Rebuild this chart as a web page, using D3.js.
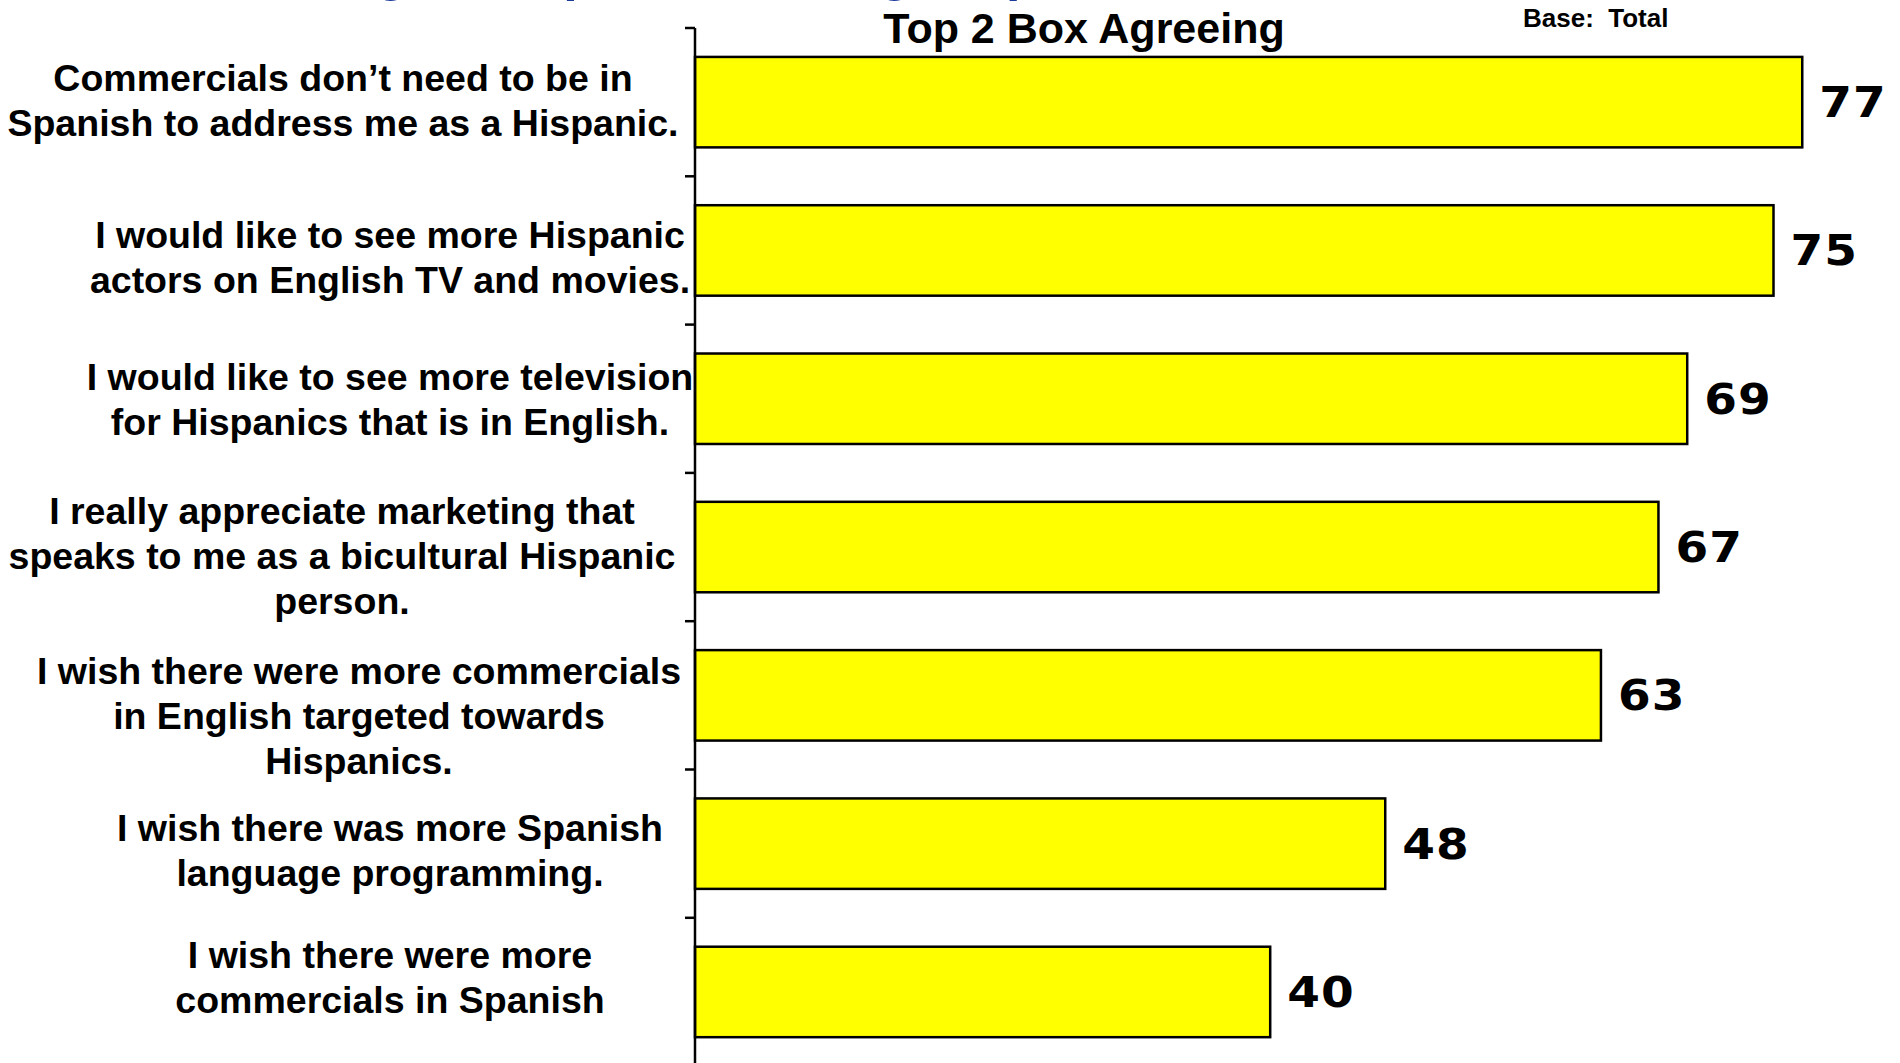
<!DOCTYPE html>
<html>
<head>
<meta charset="utf-8">
<script src="https://cdn.jsdelivr.net/npm/d3@7/dist/d3.min.js"></script>
<style>
  html, body { margin: 0; padding: 0; background: #ffffff; }
  svg { display: block; }
</style>
</head>
<body>
<script>
// Statements (wrapped lines joined by "\n") and their Top 2 Box agreement scores
const categories = [
  "Commercials don\u2019t need to be in\nSpanish to address me as a Hispanic.",
  "I would like to see more Hispanic\nactors on English TV and movies.",
  "I would like to see more television\nfor Hispanics that is in English.",
  "I really appreciate marketing that\nspeaks to me as a bicultural Hispanic\nperson.",
  "I wish there were more commercials\nin English targeted towards\nHispanics.",
  "I wish there was more Spanish\nlanguage programming.",
  "I wish there were more\ncommercials in Spanish"
];
const values = [77, 75, 69, 67, 63, 48, 40];

const pageTitle = "Advertising Perceptions Among Hispanics";
const chartTitle = "Top 2 Box Agreeing";
const baseNote = "Base:  Total";

// Per-statement label placement (horizontal centre, vertical nudge)
const labelCenterX = [343, 390, 390, 342, 359, 390, 390];
const labelShiftY  = [-2, 7, 0, 8, 20, 6, -15];

const W = 1900, H = 1063;
const svg = d3.select("body").append("svg")
  .attr("width", W).attr("height", H)
  .style("font-family", "'Liberation Sans', Arial, sans-serif");

svg.append("rect").attr("width", W).attr("height", H).attr("fill", "#ffffff");

const axisX = 695;
const x = d3.scaleLinear().domain([0, 100]).range([axisX, axisX + 1438]);
const y = d3.scaleBand()
  .domain(categories)
  .range([28, 28 + 7 * 148.3])
  .paddingInner(0.39)
  .paddingOuter(0.195);

// Page heading, sitting above the top edge so only its descenders show
svg.append("text")
  .attr("x", 121).attr("y", -10)
  .attr("font-size", 52).attr("font-weight", "bold")
  .attr("fill", "#1c3a9a")
  .text(pageTitle);

svg.append("text")
  .attr("x", 1084).attr("y", 43)
  .attr("text-anchor", "middle")
  .attr("font-size", 43).attr("font-weight", "bold")
  .attr("fill", "#000")
  .text(chartTitle);

svg.append("text")
  .attr("x", 1523).attr("y", 27)
  .attr("font-size", 26).attr("font-weight", "bold")
  .attr("fill", "#000")
  .attr("xml:space", "preserve")
  .style("white-space", "pre")
  .text(baseNote);

// Bars
svg.append("g").selectAll("rect")
  .data(values)
  .join("rect")
  .attr("x", x(0))
  .attr("y", (d, i) => y(categories[i]))
  .attr("width", d => x(d) - x(0))
  .attr("height", y.bandwidth())
  .attr("fill", "#ffff00")
  .attr("stroke", "#000")
  .attr("stroke-width", 2.5);

// Category axis: line plus ticks at band boundaries
const axisG = svg.append("g");
const step = y.step();
const top0 = y(categories[0]) - y.paddingOuter() * step;
axisG.append("line")
  .attr("x1", axisX).attr("x2", axisX)
  .attr("y1", top0).attr("y2", H + 10)
  .attr("stroke", "#000").attr("stroke-width", 2.5);
axisG.selectAll("line.tick")
  .data(d3.range(categories.length + 1))
  .join("line")
  .attr("class", "tick")
  .attr("x1", axisX - 10).attr("x2", axisX)
  .attr("y1", i => top0 + i * step)
  .attr("y2", i => top0 + i * step)
  .attr("stroke", "#000").attr("stroke-width", 2.5);

// Category labels
const lineH = 45;
categories.forEach((c, i) => {
  const lines = c.split("\n");
  const cy = y(c) + y.bandwidth() / 2 + labelShiftY[i];
  const first = cy - (lines.length - 1) * lineH / 2;
  const t = svg.append("text")
    .attr("text-anchor", "middle")
    .attr("font-size", 37.5).attr("font-weight", "bold")
    .attr("fill", "#000");
  lines.forEach((ln, k) => {
    t.append("tspan")
      .attr("x", labelCenterX[i])
      .attr("y", first + k * lineH + 13.5)
      .text(ln);
  });
});

// Value labels (wide bold digits)
svg.append("g").selectAll("text")
  .data(values)
  .join("text")
  .attr("transform", (d, i) =>
    `translate(${x(d) + 17},${y(categories[i]) + y.bandwidth() / 2 + 15}) scale(1.12,1)`)
  .attr("font-family", "'DejaVu Sans', Verdana, sans-serif")
  .attr("font-size", 42).attr("font-weight", "bold")
  .attr("letter-spacing", 1)
  .attr("fill", "#000")
  .text(d => d);
</script>
</body>
</html>
